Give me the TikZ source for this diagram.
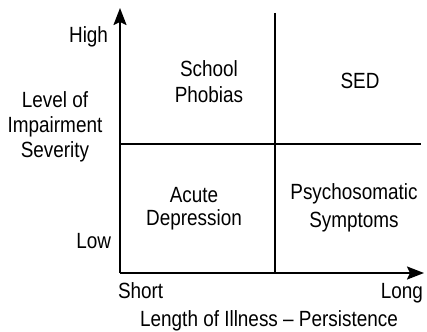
\documentclass[tikz,border=0pt]{standalone}
\usepackage{fontspec}
\setmainfont[FakeStretch=0.86]{Liberation Sans}
\usetikzlibrary{arrows.meta}
\begin{document}
\begin{tikzpicture}[x=1pt,y=-1pt,
  axis/.style={line width=2pt,-{Stealth[length=17pt,width=13pt,inset=3pt]}},
  divider/.style={line width=1.2pt},
  lbl/.style={inner sep=0pt,outer sep=0pt,font=\fontsize{22}{25}\selectfont,align=center,anchor=base}]
\useasboundingbox (0,0) rectangle (427,331);
\coordinate (O) at (120,273);
\coordinate (ytip) at (120,8);
\coordinate (xtip) at (424,273);
\coordinate (hl) at (120,144);
\coordinate (hr) at (421,144);
\coordinate (vt) at (275,13);
\coordinate (vb) at (275,273);
\draw[divider] (hl) -- (hr);
\draw[divider] (vt) -- (vb);
\draw[axis] (O) -- (ytip);
\draw[axis] (O) -- (xtip);
\node[lbl,anchor=base east] (high) at (108,43) {High};
\node[lbl,anchor=base east] (low) at (111,248) {Low};
\node[lbl,font=\fontsize{22}{24.5}\selectfont] (yl) at (55,157) {Level of\\Impairment\\Severity};
\node[lbl,font=\fontsize{22}{26}\selectfont] (school) at (209,103) {School\\Phobias};
\node[lbl] (sed) at (360,89) {SED};
\node[lbl,font=\fontsize{22}{23}\selectfont] (acute) at (194,225) {Acute\\Depression};
\node[lbl,font=\fontsize{22}{28}\selectfont] (psy) at (354,227) {Psychosomatic\\Symptoms};
\node[lbl,anchor=base west] (short) at (118,298) {Short};
\node[lbl,anchor=base east] (long) at (423,298) {Long};
\node[lbl] (xl) at (269,326) {Length of Illness – Persistence};
\end{tikzpicture}
\end{document}
